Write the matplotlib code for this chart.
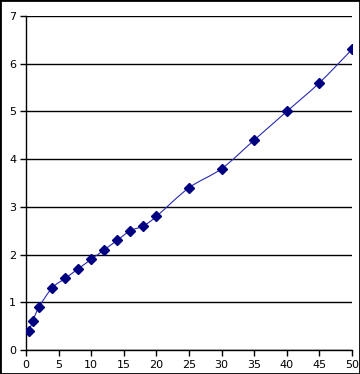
import matplotlib
matplotlib.use("Agg")
import matplotlib.pyplot as plt
import numpy as np
from matplotlib.path import Path
from matplotlib.patches import PathPatch, Rectangle

x_vals = [0.5, 1, 2, 4, 6, 8, 10, 12, 14, 16, 18, 20, 25, 30, 35, 40, 45, 50]
y_vals = [0.4, 0.6, 0.9, 1.3, 1.5, 1.7, 1.9, 2.1, 2.3, 2.5, 2.6, 2.8, 3.4, 3.8, 4.4, 5.0, 5.6, 6.3]
x_ticks = [0, 5, 10, 15, 20, 25, 30, 35, 40, 45, 50]
y_ticks = [0, 1, 2, 3, 4, 5, 6, 7]

color = "#000080"
line_color = "#2a2ab0"

fig = plt.figure(figsize=(3.6, 3.74), dpi=100)
ax = fig.add_axes([26/360, 24/374, 326/360, 334/374])

# smooth line (Catmull-Rom style bezier, like spreadsheet smoothing)
px = np.array(x_vals, float)
py = np.array(y_vals, float)
n = len(px)
verts = [(px[0], py[0])]
codes = [Path.MOVETO]
t = 1/6
for i in range(n - 1):
    p0 = (px[i-1], py[i-1]) if i > 0 else (px[i], py[i])
    p1 = (px[i], py[i])
    p2 = (px[i+1], py[i+1])
    p3 = (px[i+2], py[i+2]) if i + 2 < n else (px[i+1], py[i+1])
    c1 = (p1[0] + (p2[0]-p0[0])*t, p1[1] + (p2[1]-p0[1])*t)
    c2 = (p2[0] - (p3[0]-p1[0])*t, p2[1] - (p3[1]-p1[1])*t)
    verts += [c1, c2, p2]
    codes += [Path.CURVE4]*3
ax.add_patch(PathPatch(Path(verts, codes), fill=False, edgecolor=line_color, lw=0.8, zorder=3))
ax.plot(x_vals, y_vals, linestyle="none", marker="D", markersize=5, color=color, zorder=4)

ax.set_xlim(0, 50)
ax.set_ylim(0, 7)
ax.set_xticks(x_ticks)
ax.set_yticks(y_ticks)
ax.tick_params(labelsize=8, length=4, width=1, direction="out", colors="black", pad=3)
ax.yaxis.grid(True, color="black", lw=1)
ax.set_axisbelow(True)
for s in ["top", "right"]:
    ax.spines[s].set_visible(False)
for s in ["left", "bottom"]:
    ax.spines[s].set_linewidth(1)

fig.patches.append(Rectangle((0, 0), 1, 1, transform=fig.transFigure, fill=False,
                             edgecolor="black", lw=2, zorder=10))
fig.savefig("out.png", dpi=100)
